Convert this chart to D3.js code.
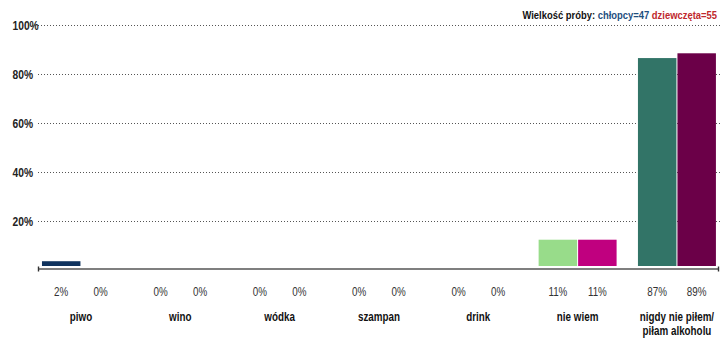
<!DOCTYPE html>
<html>
<head>
<meta charset="utf-8">
<script src="https://cdn.jsdelivr.net/npm/d3@7"></script>
<style>
  html, body { margin: 0; padding: 0; background: #fff; }
  svg { display: block; }
  text { font-family: "Liberation Sans", Arial, sans-serif; }
</style>
</head>
<body>
<svg id="chart" width="720" height="339"></svg>
<script>
const categories = ["piwo", "wino", "wódka", "szampan", "drink", "nie wiem", "nigdy nie piłem/|piłam alkoholu"];
const boysValues  = [2, 0, 0, 0, 0, 11, 87];
const girlsValues = [0, 0, 0, 0, 0, 11, 89];
const boysColors  = ["#10335e", "#10335e", "#10335e", "#10335e", "#10335e", "#98dc8a", "#327467"];
const girlsColors = ["#c0007f", "#c0007f", "#c0007f", "#c0007f", "#c0007f", "#c0007f", "#6b0048"];
const yTicks = [20, 40, 60, 80, 100];
const yTickLabels = ["20%", "40%", "60%", "80%", "100%"];
const titleParts = [
  { text: "Wielkość próby: ", color: "#111" },
  { text: "chłopcy=47", color: "#1f4f7f" },
  { text: " dziewczęta=55", color: "#c0282d" }
];

const NARROW = 0.82;
const svg = d3.select("#chart");
const W = 720;

const x = d3.scaleBand()
  .domain(categories)
  .range([31.3, 726.6])
  .paddingInner(0.215)
  .paddingOuter(0.1075);
const sub = d3.scaleBand().domain(["b", "g"]).range([0, x.bandwidth()]).paddingInner(0.026);

const yGrid = d3.scaleLinear().domain([0, 100]).range([270.5, 25]);
const yBar = d3.scaleLinear().domain([0, 100]).range([266, 27]);

function narrowText(sel, px, py) {
  return sel.append("g")
    .attr("transform", (d, i) => `translate(${typeof px === "function" ? px(d, i) : px},${typeof py === "function" ? py(d, i) : py}) scale(${NARROW},1)`)
    .append("text");
}

// gridlines
const grid = svg.append("g");
grid.selectAll("line").data(yTicks).join("line")
  .attr("x1", 38).attr("x2", W)
  .attr("y1", d => Math.round(yGrid(d)) + 0.5)
  .attr("y2", d => Math.round(yGrid(d)) + 0.5)
  .attr("stroke", "#555")
  .attr("stroke-width", 1)
  .attr("stroke-dasharray", "1,2");
const tickG = grid.selectAll("g.tk").data(yTicks).join("g").attr("class", "tk")
  .attr("transform", d => `translate(12.5,${yGrid(d)}) scale(${NARROW},1)`);
tickG.append("text")
  .attr("dy", "0.36em")
  .attr("font-size", 12.5)
  .attr("font-weight", "bold")
  .attr("fill", "#222")
  .text((d, i) => yTickLabels[i]);

// bars
const groups = svg.append("g").selectAll("g").data(categories).join("g")
  .attr("transform", d => `translate(${x(d)},0)`);
groups.append("rect")
  .attr("x", sub("b")).attr("width", sub.bandwidth())
  .attr("y", (d, i) => yBar(boysValues[i]))
  .attr("height", (d, i) => yBar(0) - yBar(boysValues[i]))
  .attr("fill", (d, i) => boysColors[i]);
groups.append("rect")
  .attr("x", sub("g")).attr("width", sub.bandwidth())
  .attr("y", (d, i) => yBar(girlsValues[i]))
  .attr("height", (d, i) => yBar(0) - yBar(girlsValues[i]))
  .attr("fill", (d, i) => girlsColors[i]);

// value labels
narrowText(groups, sub("b") + sub.bandwidth() / 2, 296)
  .attr("text-anchor", "middle").attr("font-size", 12).attr("fill", "#333")
  .text((d, i) => boysValues[i] + "%");
narrowText(groups, sub("g") + sub.bandwidth() / 2, 296)
  .attr("text-anchor", "middle").attr("font-size", 12).attr("fill", "#333")
  .text((d, i) => girlsValues[i] + "%");

// category labels
narrowText(groups, x.bandwidth() / 2, 321)
  .attr("text-anchor", "middle").attr("font-size", 12).attr("font-weight", "bold").attr("fill", "#111")
  .each(function(d) {
    const lines = d.split("|");
    d3.select(this).selectAll("tspan").data(lines).join("tspan")
      .attr("x", 0)
      .attr("dy", (l, i) => i === 0 ? 0 : 14.5)
      .text(l => l);
  });

// axis line
const axis = svg.append("g");
axis.append("line")
  .attr("x1", 38).attr("x2", 719).attr("y1", 269).attr("y2", 269)
  .attr("stroke", "#555").attr("stroke-width", 1.6);
axis.selectAll("line.end").data([38.5, 718.5]).join("line").attr("class", "end")
  .attr("x1", d => d).attr("x2", d => d).attr("y1", 266.5).attr("y2", 271.5)
  .attr("stroke", "#333").attr("stroke-width", 1.4);

// title
const title = svg.append("g").attr("transform", `translate(717,19) scale(${NARROW},1)`)
  .append("text")
  .attr("text-anchor", "end").attr("font-size", 11.5).attr("font-weight", "bold");
title.selectAll("tspan").data(titleParts).join("tspan")
  .attr("fill", d => d.color)
  .text(d => d.text);
</script>
</body>
</html>
